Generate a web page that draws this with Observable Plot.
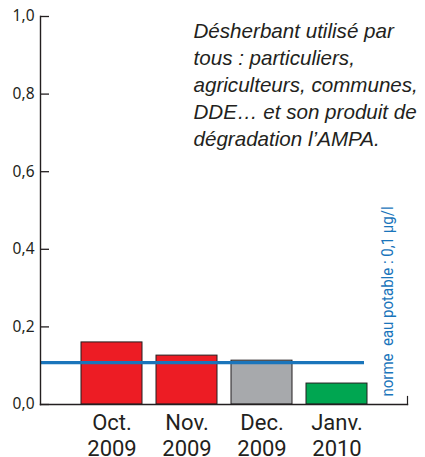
<!DOCTYPE html>
<html>
<head>
<meta charset="utf-8">
<script src="https://cdn.jsdelivr.net/npm/d3@7"></script>
<script src="https://cdn.jsdelivr.net/npm/@observablehq/plot@0.6"></script>
<style>
  html, body { margin: 0; padding: 0; background: #fff; }
  #chart svg { display: block; }
</style>
</head>
<body>
<div id="chart"></div>
<script>
// --- data ---
const months = ["Oct. 2009", "Nov. 2009", "Dec. 2009", "Janv. 2010"];
const monthLabels = ["Oct.\n2009", "Nov.\n2009", "Dec.\n2009", "Janv.\n2010"];
const values = [0.160, 0.126, 0.113, 0.054];
const status = ["dépassement", "dépassement", "proche", "conforme"];
const statusDomain = ["dépassement", "proche", "conforme"];
const yTicks = [0, 0.2, 0.4, 0.6, 0.8, 1.0];
const normValue = 0.108;
const normLabel = "norme  eau potable : 0,1 µg/l";
const note = "Désherbant utilisé par\ntous : particuliers,\nagriculteurs, communes,\nDDE… et son produit de\ndégradation l’AMPA.";

const data = months.map((m, i) => ({month: m, label: monthLabels[i], value: values[i], status: status[i]}));
const ink = "#231f20";
const blue = "#1a75bb";

const chart = Plot.plot({
  width: 425,
  height: 457,
  marginLeft: 40,
  marginRight: 18,
  marginTop: 16,
  marginBottom: 53,
  style: {background: "#fff"},
  x: {domain: months, paddingInner: 0.19, paddingOuter: 0.53, align: 0.5, axis: null},
  y: {domain: [0, 1], axis: null},
  color: {domain: statusDomain, range: ["#ed1c24", "#a7a9ac", "#00a651"]},
  marks: [
    Plot.barY(data, {x: "month", y: "value", fill: "status", stroke: ink, strokeWidth: 1}),
    Plot.ruleY([normValue], {stroke: blue, strokeWidth: 3.4, insetRight: 43}),
    Plot.frame({anchor: "left", stroke: ink, strokeWidth: 1.4}),
    Plot.frame({anchor: "bottom", stroke: ink, strokeWidth: 1.4}),
    Plot.frame({anchor: "right", stroke: ink, strokeWidth: 1.2, insetTop: 380}),
    Plot.axisY({ticks: yTicks, tickSize: -9, text: null, label: null, stroke: ink, strokeWidth: 1.3}),
    Plot.axisY({ticks: yTicks, tickSize: 0, tickPadding: 6, label: null,
      tickFormat: d => d.toFixed(1).replace(".", ","),
      fontSize: 15.5, fontFamily: "Noto Sans", fill: ink}),
    Plot.text(data, {x: "month", text: "label", frameAnchor: "bottom", lineAnchor: "top",
      dy: 7, lineHeight: 1.18, fontSize: 22, fontFamily: "Roboto", fill: ink}),
    Plot.text([normLabel], {frameAnchor: "bottom-right", rotate: -90, textAnchor: "start",
      lineAnchor: "middle", dx: -20, dy: -8, fontSize: 16.5, fontFamily: "Roboto", fill: blue}),
    Plot.text([note], {frameAnchor: "top-left", textAnchor: "start", lineAnchor: "top",
      dx: 153, dy: 2, lineHeight: 1.31, fontSize: 20.6, fontStyle: "italic",
      fontFamily: "Liberation Sans", fill: ink})
  ]
});
// condense the norm label along its direction (reference uses a condensed face)
const textGroups = chart.querySelectorAll('g[aria-label="text"]');
textGroups[1].querySelectorAll("text").forEach(t =>
  t.setAttribute("transform", (t.getAttribute("transform") || "") + " scale(0.91,1)"));
document.getElementById("chart").append(chart);
</script>
</body>
</html>
